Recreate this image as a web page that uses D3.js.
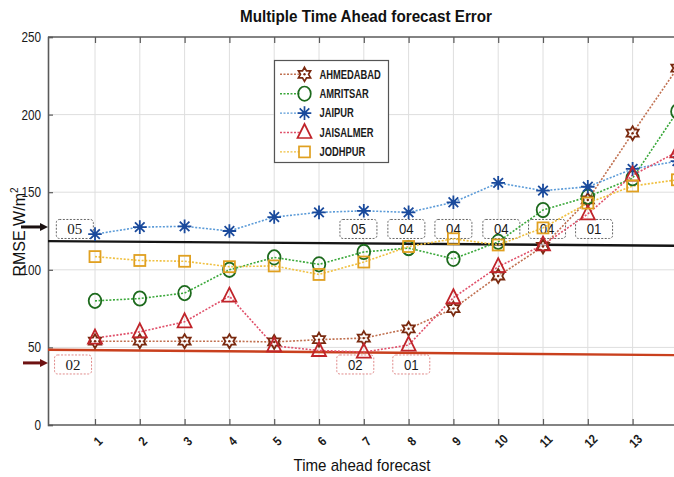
<!DOCTYPE html>
<html>
<head>
<meta charset="utf-8">
<script src="https://cdn.jsdelivr.net/npm/d3@7"></script>
<style>
  html, body { margin: 0; padding: 0; background: #fff; }
  svg { display: block; }
  .narrow { font-family: "Liberation Sans", Arial, sans-serif; }
</style>
</head>
<body>
<svg id="chart" width="674" height="477"></svg>
<script>
// Forecast horizon steps
const steps = [1, 2, 3, 4, 5, 6, 7, 8, 9, 10, 11, 12, 13, 14];
const tickSteps = [1, 2, 3, 4, 5, 6, 7, 8, 9, 10, 11, 12, 13];
const yTicks = [0, 50, 100, 150, 200, 250];

// RMSE (W/m^2) per city for each horizon step
const ahmedabad = [54, 54, 54, 54, 53.5, 55, 56, 62, 75, 96, 115, 145, 188, 230];
const amritsar  = [80, 81.5, 85, 100, 108, 103.5, 111.5, 114, 107, 118, 138.5, 147, 159, 202];
const jaipur    = [123, 127.5, 128, 125, 134, 137, 138, 137, 143.5, 156, 151, 153.5, 165, 170];
const jaisalmer = [56, 60, 66.5, 83, 51, 48, 47, 51.5, 82, 102, 116, 136, 161, 176];
const jodhpur   = [108.5, 106, 105.5, 102, 102.5, 97, 105, 115, 120, 116, 127, 143, 154, 158];

const cityNames = ["AHMEDABAD", "AMRITSAR", "JAIPUR", "JAISALMER", "JODHPUR"];

// Reference levels (start / end value across the horizon)
const upperRef = [118.5, 115.5];
const lowerRef = [48.5, 45];

// Annotation boxes: horizon position, level and text
const upperBoxX = [0.55, 6.88, 7.95, 9.0, 10.07, 11.09, 12.14];
const upperBoxText = ["05", "05", "04", "04", "04", "04", "01"];
const upperBoxLevel = 126.3;
const lowerBoxX = [0.51, 6.81, 8.06];
const lowerBoxText = ["02", "02", "01"];
const lowerBoxLevel = 39;
const arrowLevels = [127.6, 40];

const svg = d3.select("#chart");
const W = 674, H = 477;
const plotLeft = 48, plotTop = 37, plotBottom = 425;
const condense = 0.84;   // horizontal squeeze for a narrow typeface look

const x = d3.scaleLinear().domain([0, 14]).range([50.2, 677.4]);
const y = d3.scaleLinear().domain([0, 250]).range([plotBottom, plotTop]);

svg.append("rect").attr("width", W).attr("height", H).attr("fill", "#fff");

// Grid
const grid = svg.append("g");
grid.selectAll("line.v").data(steps).join("line")
  .attr("x1", d => x(d)).attr("x2", d => x(d))
  .attr("y1", plotTop).attr("y2", plotBottom)
  .attr("stroke", "#dedede").attr("stroke-width", 1);
grid.selectAll("line.h").data(yTicks.slice(1, -1)).join("line")
  .attr("x1", plotLeft).attr("x2", W)
  .attr("y1", d => y(d)).attr("y2", d => y(d))
  .attr("stroke", "#dedede").attr("stroke-width", 1);

// Axes
const axisColor = "#5a5a5a";
const yAxis = svg.append("g").attr("transform", `translate(${plotLeft},0)`)
  .call(d3.axisLeft(y).tickValues(yTicks).tickSize(-5));
const yAxisR = svg.append("g").attr("transform", `translate(${x(14.04)},0)`)
  .call(d3.axisRight(y).tickValues(yTicks).tickSize(-5).tickFormat(""));
const xTop = svg.append("g").attr("transform", `translate(0,${plotTop})`)
  .call(d3.axisTop(x).tickValues(steps).tickSize(-6).tickFormat(""));
const xBot = svg.append("g").attr("transform", `translate(0,${plotBottom})`)
  .call(d3.axisBottom(x).tickValues(tickSteps).tickSize(-6).tickFormat(""));
[yAxis, yAxisR, xTop, xBot].forEach(g => {
  g.select(".domain").attr("stroke", axisColor).attr("stroke-width", 1.6);
  g.selectAll(".tick line").attr("stroke", axisColor).attr("stroke-width", 1.2);
});
xTop.select(".domain").attr("d", `M${plotLeft},0H${W}`);
xBot.select(".domain").attr("d", `M${plotLeft},0H${W}`);
yAxis.selectAll(".tick text")
  .attr("class", "narrow").attr("font-size", 14).attr("fill", "#1a1a1a")
  .attr("x", -7 / condense).attr("text-anchor", "end")
  .attr("transform", `scale(${condense},1)`);

// Rotated x tick labels
svg.append("g").selectAll("text").data(tickSteps).join("text")
  .attr("class", "narrow")
  .attr("font-size", 13).attr("fill", "#1a1a1a").attr("font-weight", "bold")
  .attr("text-anchor", "middle")
  .attr("transform", d => `translate(${x(d) + 3},${plotBottom + 16}) rotate(-45) scale(0.85,1)`)
  .attr("dy", "0.35em")
  .text(d => d);

// Titles
svg.append("text").attr("class", "narrow")
  .attr("x", 366).attr("y", 22).attr("text-anchor", "middle")
  .attr("font-size", 16).attr("font-weight", "bold").attr("fill", "#111")
  .attr("textLength", 252).attr("lengthAdjust", "spacingAndGlyphs")
  .text("Multiple Time Ahead forecast Error");
svg.append("text").attr("class", "narrow")
  .attr("x", 362).attr("y", 471).attr("text-anchor", "middle")
  .attr("font-size", 17).attr("fill", "#111")
  .attr("textLength", 137).attr("lengthAdjust", "spacingAndGlyphs")
  .text("Time ahead forecast");
const yl = svg.append("text").attr("class", "narrow")
  .attr("transform", "translate(25,232) rotate(-90)")
  .attr("text-anchor", "middle").attr("font-size", 16).attr("fill", "#111");
yl.append("tspan").text("RMSE W/m");
yl.append("tspan").attr("dy", -7).attr("font-size", 10).text("2");

// Annotation boxes (drawn below the series)
function boxes(xs, texts, level, stroke) {
  const g = svg.append("g");
  const b = g.selectAll("g").data(xs.map((d, i) => ({ x: d, t: texts[i], i }))).join("g")
    .attr("transform", d => `translate(${x(d.x)},${y(level)})`);
  b.append("rect").attr("x", -18.5).attr("y", -9.5).attr("width", 37).attr("height", 19)
    .attr("rx", 3).attr("fill", "#fff").attr("fill-opacity", 0.85)
    .attr("stroke", stroke).attr("stroke-width", 1).attr("stroke-dasharray", "2,1.5");
  b.append("text").attr("text-anchor", "middle").attr("dy", "0.36em")
    .attr("font-size", 15).attr("fill", "#1a1a1a")
    .attr("font-family", d => d.i === 0 ? "'Liberation Serif', 'Times New Roman', serif"
                                        : "'Liberation Sans', Arial, sans-serif")
    .attr("transform", d => d.i === 0 ? null : "scale(0.88,1)")
    .text(d => d.t);
}
boxes(upperBoxX, upperBoxText, upperBoxLevel, "#666");
boxes(lowerBoxX, lowerBoxText, lowerBoxLevel, "#e08a8a");

// Reference lines
svg.append("line").attr("x1", plotLeft).attr("x2", W)
  .attr("y1", y(upperRef[0])).attr("y2", y(upperRef[1]))
  .attr("stroke", "#151515").attr("stroke-width", 2.4);
svg.append("line").attr("x1", plotLeft).attr("x2", W)
  .attr("y1", y(lowerRef[0])).attr("y2", y(lowerRef[1]))
  .attr("stroke", "#c9401e").attr("stroke-width", 2.4);

// Arrows pointing at the reference levels
const arrowColors = ["#1a1010", "#6e1212"];
const arrowStart = [21, 23];
arrowLevels.forEach((lv, i) => {
  const yy = y(lv);
  svg.append("line").attr("x1", arrowStart[i]).attr("x2", plotLeft - 6)
    .attr("y1", yy).attr("y2", yy)
    .attr("stroke", arrowColors[i]).attr("stroke-width", 3);
  svg.append("path")
    .attr("d", `M${plotLeft - 8},${yy - 4}L${plotLeft},${yy}L${plotLeft - 8},${yy + 4}Z`)
    .attr("fill", arrowColors[i]);
});

// Marker shapes
function hexagram(R) {
  const r = R / Math.sqrt(3);
  const pts = [];
  for (let k = 0; k < 12; k++) {
    const a = -Math.PI / 2 + k * Math.PI / 6;
    const rr = k % 2 === 0 ? R : r;
    pts.push([rr * Math.cos(a), rr * Math.sin(a)]);
  }
  return "M" + pts.map(p => p.join(",")).join("L") + "Z";
}
const markers = {
  AHMEDABAD: g => {
    g.append("path").attr("d", hexagram(7)).attr("fill", "#fff").attr("fill-opacity", 0.6);
    g.append("circle").attr("r", 1.2).attr("stroke", "none").attr("class", "dot");
  },
  AMRITSAR: g => g.append("ellipse").attr("rx", 6.3).attr("ry", 7.2).attr("fill", "none"),
  JAIPUR: g => {
    const s = 6.8;
    const d = s * Math.SQRT1_2;
    g.append("path").attr("d",
      `M${-s},0H${s}M0,${-s}V${s}M${-d},${-d}L${d},${d}M${-d},${d}L${d},${-d}`);
    g.append("circle").attr("r", 2.2).attr("stroke", "none").attr("class", "dot");
  },
  JAISALMER: g => g.append("path").attr("d", "M0,-8.5L7,5.5L-7,5.5Z").attr("fill", "none"),
  JODHPUR: g => g.append("rect").attr("x", -5.5).attr("y", -5.5)
    .attr("width", 11).attr("height", 11).attr("fill", "none")
};

const series = [
  { name: "AHMEDABAD", values: ahmedabad, line: "#c07050", mark: "#7a2a10" },
  { name: "AMRITSAR",  values: amritsar,  line: "#3aa83a", mark: "#1d6a1d" },
  { name: "JAIPUR",    values: jaipur,    line: "#5b9bd8", mark: "#1a4a9c" },
  { name: "JAISALMER", values: jaisalmer, line: "#e0506a", mark: "#c0242a" },
  { name: "JODHPUR",   values: jodhpur,   line: "#f0c040", mark: "#e0a020" }
];

const lineGen = d3.line().x((d, i) => x(steps[i])).y(d => y(d));
const plotArea = svg.append("g");
series.forEach(s => {
  plotArea.append("path").datum(s.values)
    .attr("d", lineGen).attr("fill", "none")
    .attr("stroke", s.line).attr("stroke-width", 1.6)
    .attr("stroke-dasharray", "2,1.6");
});
series.forEach(s => {
  const g = plotArea.append("g");
  s.values.forEach((v, i) => {
    const m = g.append("g")
      .attr("transform", `translate(${x(steps[i])},${y(v)})`)
      .attr("stroke", s.mark).attr("stroke-width", 1.8);
    markers[s.name](m);
    m.selectAll(".dot").attr("fill", s.mark);
  });
});

// Legend
const lg = svg.append("g");
lg.append("rect").attr("x", 274.5).attr("y", 60.5).attr("width", 114).attr("height", 102)
  .attr("fill", "#fff").attr("stroke", "#555").attr("stroke-width", 1.2);
series.forEach((s, i) => {
  const yy = 74.3 + i * 19.4;
  lg.append("line").attr("x1", 280).attr("x2", 300).attr("y1", yy).attr("y2", yy)
    .attr("stroke", s.line).attr("stroke-width", 1.4).attr("stroke-dasharray", "2,1.5");
  const m = lg.append("g").attr("transform", `translate(304.5,${yy})`)
    .attr("stroke", s.mark).attr("stroke-width", 1.7);
  markers[s.name](m);
  m.selectAll(".dot").attr("fill", s.mark);
  lg.append("text").attr("class", "narrow")
    .attr("transform", `translate(319.5,${yy}) scale(0.78,1)`)
    .attr("dy", "0.36em")
    .attr("font-size", 12).attr("font-weight", "bold").attr("fill", "#1a1a1a")
    .text(cityNames[i]);
});
</script>
</body>
</html>
